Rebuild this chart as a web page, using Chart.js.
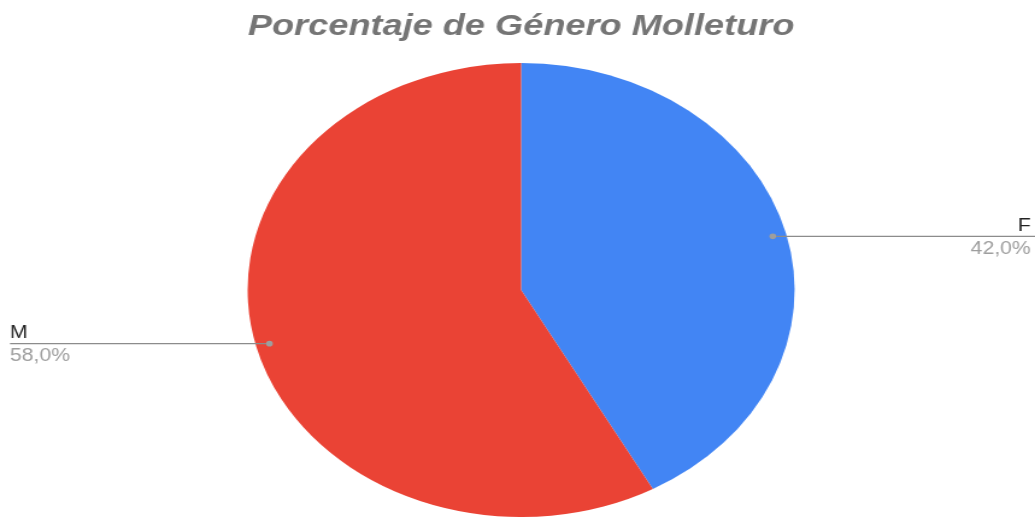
<!DOCTYPE html>
<html>
<head>
<meta charset="utf-8">
<script src="https://cdn.jsdelivr.net/npm/chart.js@4"></script>
<style>
  html, body { margin: 0; padding: 0; background: #fff; overflow: hidden; }
  #wrap { width: 859px; height: 517px; transform: scaleX(1.2049); transform-origin: 0 0; }
</style>
</head>
<body>
<div id="wrap"><canvas id="c" width="859" height="517"></canvas></div>
<script>
const categories = ['F', 'M'];
const values = [42.0, 58.0];
const colors = ['#4285F4', '#EA4335'];
const titleText = 'Porcentaje de Género Molleturo';

const fmt = v => v.toFixed(1).replace('.', ',') + '%';

const leaderPlugin = {
  id: 'leader',
  afterDatasetsDraw(chart) {
    const ctx = chart.ctx;
    const meta = chart.getDatasetMeta(0);
    const W = chart.width;
    meta.data.forEach((arc, i) => {
      const p = arc.getProps(['x', 'y', 'startAngle', 'endAngle', 'outerRadius'], true);
      const mid = (p.startAngle + p.endAngle) / 2;
      const r = p.outerRadius * 0.95;
      const dx = p.x + Math.cos(mid) * r;
      const dy = p.y + Math.sin(mid) * r;
      const right = Math.cos(mid) >= 0;
      const endX = right ? W : 8.3;
      ctx.save();
      ctx.strokeStyle = '#8c8c8c';
      ctx.lineWidth = 1.2;
      ctx.beginPath();
      ctx.moveTo(dx, dy);
      ctx.lineTo(endX, dy);
      ctx.stroke();
      ctx.fillStyle = '#9e9e9e';
      ctx.beginPath();
      ctx.arc(dx, dy, 2.8, 0, Math.PI * 2);
      ctx.fill();
      ctx.font = '17.6px "Liberation Sans", Arial, sans-serif';
      ctx.textBaseline = 'alphabetic';
      ctx.textAlign = right ? 'right' : 'left';
      const tx = right ? W - 3.5 : 8.3;
      ctx.fillStyle = '#222222';
      ctx.fillText(categories[i], tx, dy - 5.5);
      ctx.fillStyle = '#9e9e9e';
      ctx.fillText(fmt(values[i]), tx, dy + 17.5);
      ctx.restore();
    });
  }
};

new Chart(document.getElementById('c'), {
  type: 'pie',
  data: {
    labels: categories,
    datasets: [{
      data: values,
      backgroundColor: colors,
      borderWidth: 0
    }]
  },
  options: {
    responsive: false,
    animation: false,
    layout: { padding: { left: 6, right: 0, top: 0, bottom: 0 } },
    plugins: {
      legend: { display: false },
      tooltip: { enabled: false },
      title: {
        display: true,
        text: titleText,
        color: '#757575',
        font: { family: '"Liberation Sans", Arial, sans-serif', size: 30, weight: 'bold', style: 'italic', lineHeight: 1.2 },
        padding: { top: 9, bottom: 18 }
      }
    }
  },
  plugins: [leaderPlugin]
});
</script>
</body>
</html>
